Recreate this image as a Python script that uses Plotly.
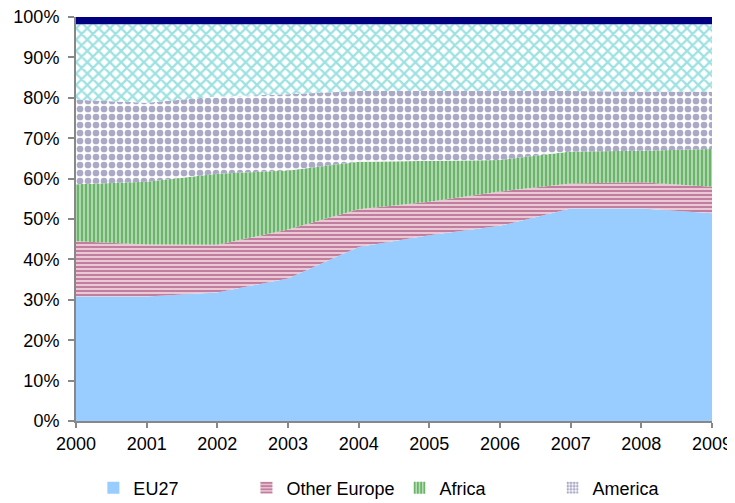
import plotly.graph_objects as go

years = [2000, 2001, 2002, 2003, 2004, 2005, 2006, 2007, 2008, 2009]
eu27 = [30.8, 30.8, 31.8, 35.3, 43.1, 46.0, 48.3, 52.6, 52.6, 51.4]
other_europe = [13.7, 12.9, 11.8, 12.1, 9.3, 8.3, 8.5, 6.2, 6.5, 6.6]
africa = [14.1, 15.5, 17.6, 14.6, 11.8, 10.1, 7.8, 7.9, 7.8, 9.3]
america = [20.9, 19.6, 19.1, 18.9, 17.5, 17.3, 17.1, 15.0, 14.6, 14.2]
asia = [18.7, 19.4, 17.9, 17.3, 16.5, 16.5, 16.5, 16.5, 16.7, 16.7]
oceania = [1.8, 1.8, 1.8, 1.8, 1.8, 1.8, 1.8, 1.8, 1.8, 1.8]

series = [
    ("EU27", eu27, "#99CCFF", None),
    ("Other Europe", other_europe, "#EBC8D6",
        dict(shape="-", fgcolor="#993366", bgcolor="#EBC8D6", size=4, solidity=0.5)),
    ("Africa", africa, "#BFE0BF",
        dict(shape="|", fgcolor="#158A15", bgcolor="#BFE0BF", size=4, solidity=0.6)),
    ("America", america, "#FFFFFF",
        dict(shape=".", fgcolor="#55558F", bgcolor="#FFFFFF", size=8, solidity=0.55)),
    ("Asia", asia, "#FFFFFF",
        dict(shape="x", fgcolor="#3FC4C4", bgcolor="#FFFFFF", size=8, solidity=0.5)),
    ("Oceania", oceania, "#000080", None),
]

fig = go.Figure()
for name, vals, color, pat in series:
    kw = dict(fillcolor=color)
    if pat:
        kw["fillpattern"] = pat
    fig.add_trace(go.Scatter(
        x=years, y=vals, name=name, mode="lines", stackgroup="one",
        line=dict(width=0), hoverinfo="skip", showlegend=False, **kw))

# legend swatches (square keys)
for name, vals, color, pat in series:
    mk = dict(color=color, line=dict(width=0))
    if pat:
        mk["pattern"] = dict(shape=pat["shape"], fgcolor=pat["fgcolor"], bgcolor=pat["bgcolor"],
                             size=4, solidity=0.55)
    fig.add_trace(go.Bar(x=[None], y=[None], name=name, marker=mk, hoverinfo="skip"))

# the page adds an 8px body margin, so the figure is sized/shifted to fit the window
fig.update_layout(
    width=727, height=495,
    margin=dict(l=68, r=23, t=9, b=82, autoexpand=False),
    paper_bgcolor="white", plot_bgcolor="white",
    font=dict(family="Liberation Sans, Arial, sans-serif", size=18, color="#000000"),
    showlegend=True,
    legend=dict(orientation="h", x=0.477, xanchor="center", y=-0.12, yanchor="top",
                font=dict(size=18), itemwidth=30, traceorder="normal",
                tracegroupgap=0),
)
fig.update_xaxes(range=[2000, 2009], dtick=1, tick0=2000, showgrid=False, zeroline=False,
                 showline=True, linecolor="#888888", linewidth=2, automargin=False,
                 ticks="outside", ticklen=5, tickcolor="#888888", tickwidth=2,
                 ticklabeloverflow="allow")
fig.update_yaxes(range=[0, 100], dtick=10, ticksuffix="%", showgrid=False, zeroline=False,
                 showline=True, linecolor="#888888", linewidth=2, automargin=False,
                 ticks="outside", ticklen=6, tickcolor="#888888", tickwidth=2,
                 ticklabelstandoff=5, ticklabeloverflow="allow")

fig.write_html("out.html")
